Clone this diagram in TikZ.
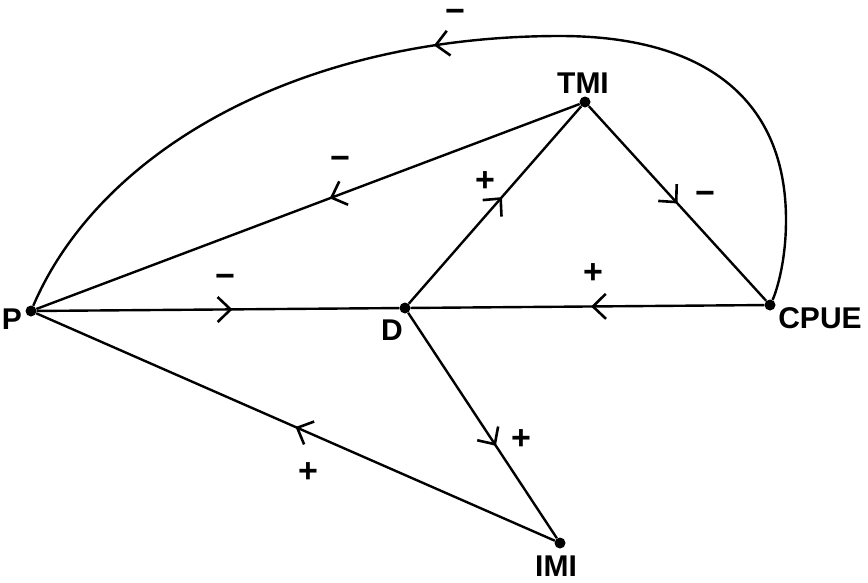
\documentclass[tikz,border=0pt]{standalone}
\usepackage{fontspec}
\setmainfont{Liberation Sans}
\usetikzlibrary{arrows.meta,decorations.markings}
\begin{document}
\begin{tikzpicture}[x=1pt,y=-1pt,
 dot/.style={circle,fill,inner sep=0pt,minimum size=11pt},
 vname/.style={font=\fontsize{30}{32}\selectfont\bfseries,inner sep=0pt},
 sign/.style={font=\fontsize{34}{34}\selectfont\bfseries,inner sep=0pt},
 edge/.style={line width=2.4pt},
 midarrow/.style={postaction={decorate},decoration={markings,mark=at position #1 with {\arrow{Straight Barb[length=13pt,width=25pt,line width=2.6pt]}}}}]
\useasboundingbox (0,0) rectangle (868,582);
\node[dot] (P) at (31,311) {};
\node[dot] (D) at (405,308) {};
\node[dot] (TMI) at (585,102) {};
\node[dot] (CPUE) at (770,305) {};
\node[dot] (IMI) at (560,543) {};
\node[vname] (Pl) at (12,319) {P};
\node[vname] (Dl) at (392,330) {D};
\node[vname] (TMIl) at (583,83) {TMI};
\node[vname] (CPUEl) at (820,318) {CPUE};
\node[vname] (IMIl) at (556,566) {IMI};
\draw[edge,midarrow=0.54] (P) -- (D);
\draw[edge,midarrow=0.46] (TMI) -- (P);
\draw[edge,midarrow=0.54] (D) -- (TMI);
\draw[edge,midarrow=0.5] (TMI) -- (CPUE);
\draw[edge,midarrow=0.49] (CPUE) -- (D);
\draw[edge,midarrow=0.59] (D) -- (IMI);
\draw[edge,midarrow=0.5] (IMI) -- (P);
\draw[edge,midarrow=0.52] (CPUE) .. controls (775,295) and (786,265) .. (786,220)
  .. controls (786,100) and (706,36) .. (560,36)
  .. controls (300,36) and (100,150) .. (P);
\node[sign] (s1) at (455,16) {−};
\node[sign] (s2) at (340,163) {−};
\node[sign] (s3) at (485,182) {+};
\node[sign] (s4) at (705,198) {−};
\node[sign] (s5) at (225,281) {−};
\node[sign] (s6) at (593,274) {+};
\node[sign] (s7) at (521,440) {+};
\node[sign] (s8) at (308,473) {+};
\end{tikzpicture}
\end{document}
